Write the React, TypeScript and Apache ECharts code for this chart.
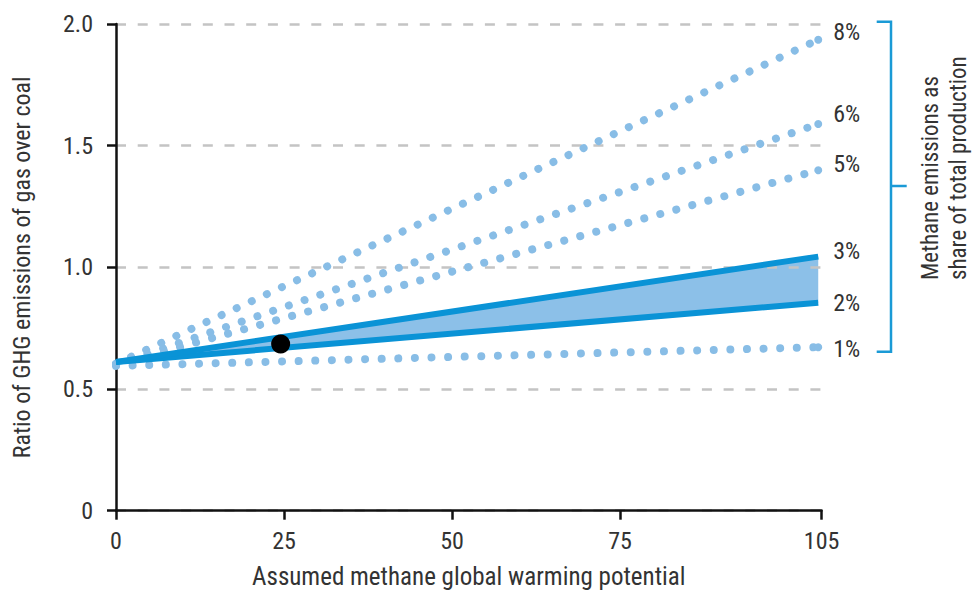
import React, { useEffect, useRef } from "react";
import * as echarts from "echarts";

// Assumed methane GWP range (x) shared by all scenario lines
const gwp = [0, 104.5];

// Ratio of GHG emissions of gas over coal, per methane leakage share
const share1 = [0.595, 0.672];
const share2 = [0.611, 0.855];
const share3 = [0.611, 1.044];
const share5 = [0.6, 1.399];
const share6 = [0.6, 1.589];
const share8 = [0.604, 1.935];

// Highlighted point
const markerGwp = 24.5;
const markerRatio = 0.685;

const xTicks = [0, 25, 50, 75, 105];
const yTicks = [0, 0.5, 1.0, 1.5, 2.0];

const FONT = "Roboto Condensed";
const TEXT = "#333333";
const DOT = "#88bde6";
const SOLID = "#0a93d6";
const FILL = "#8cc0e8";
const BRACKET = "#1a9ad6";

const pts = (ys: number[]) => gwp.map((x, i) => [x, ys[i]]);
// dotted lines: end point gets a dot, start point hidden under the band
const dotPts = (ys: number[]) =>
  gwp.map((x, i) => (i === 0 ? { value: [x, ys[i]], symbol: "none" } : { value: [x, ys[i]] }));

export default function App() {
  const ref = useRef<HTMLDivElement>(null);

  useEffect(() => {
    document.body.style.margin = "0";
    if (!ref.current) return;
    const chart = echarts.init(ref.current, null, { renderer: "svg" });

    const label = (name: string, dy: number) => ({
      show: true,
      formatter: name,
      distance: 15,
      offset: [0, dy],
      fontFamily: FONT,
      fontWeight: 400,
      fontSize: 24,
      color: TEXT,
    });

    const dotted = (name: string, ys: number[], dy: number) => ({
      name,
      type: "line",
      data: dotPts(ys),
      z: 2,
      symbol: "circle",
      symbolSize: 8,
      showSymbol: true,
      itemStyle: { color: DOT },
      lineStyle: { color: DOT, width: 8, type: [0.01, 16.6], cap: "round" },
      endLabel: label(name, dy),
      emphasis: { disabled: true },
    });

    const solid = (name: string, ys: number[], dy: number) => ({
      name,
      type: "line",
      data: pts(ys),
      z: 3,
      symbol: "none",
      lineStyle: { color: SOLID, width: 6, cap: "butt" },
      endLabel: label(name, dy),
      emphasis: { disabled: true },
    });

    const option: any = {
      animation: false,
      textStyle: { fontFamily: FONT },
      grid: {
        left: 116,
        right: 151.4,
        top: 24,
        bottom: 82.3,
        containLabel: false,
        outerBoundsMode: "none",
      },
      xAxis: {
        type: "value",
        min: 0,
        max: 105,
        name: "Assumed methane global warming potential",
        nameLocation: "middle",
        nameGap: 53,
        nameTextStyle: { fontFamily: FONT, fontWeight: 400, fontSize: 25, color: TEXT, verticalAlign: "top" },
        axisLine: { show: true, lineStyle: { color: "#111", width: 2.5 } },
        axisTick: {
          show: true,
          length: 9,
          lineStyle: { color: "#111", width: 2.5 },
          customValues: xTicks,
        },
        axisLabel: {
          margin: 18,
          fontFamily: FONT,
          fontWeight: 400,
          fontSize: 24,
          color: TEXT,
          customValues: xTicks,
        },
        splitLine: { show: false },
      },
      yAxis: {
        type: "value",
        min: 0,
        max: 2,
        interval: 0.5,
        name: "Ratio of GHG emissions of gas over coal",
        nameLocation: "middle",
        nameGap: 82,
        nameRotate: 90,
        nameTextStyle: { fontFamily: FONT, fontWeight: 400, fontSize: 24, color: TEXT },
        axisLine: { show: true, lineStyle: { color: "#111", width: 2.5 } },
        axisTick: { show: true, length: 9, lineStyle: { color: "#111", width: 2.5 } },
        axisLabel: {
          margin: 23,
          fontFamily: FONT,
          fontWeight: 400,
          fontSize: 24,
          color: TEXT,
          formatter: (v: number) => (v === 0 ? "0" : v.toFixed(1)),
          customValues: yTicks,
        },
        splitLine: {
          show: true,
          lineStyle: { color: "#c4c4c4", width: 2.5, type: [10, 11.7] },
        },
      },
      series: [
        {
          name: "band",
          type: "custom",
          z: -1,
          silent: true,
          data: gwp.map((x, i) => [x, share2[i], share3[i]]),
          renderItem: (params: any, api: any) => {
            const i = params.dataIndex;
            if (i >= gwp.length - 1) return null;
            const a = api.coord([gwp[i], share2[i]]);
            const b = api.coord([gwp[i + 1], share2[i + 1]]);
            const c = api.coord([gwp[i + 1], share3[i + 1]]);
            const d = api.coord([gwp[i], share3[i]]);
            return {
              type: "polygon",
              shape: { points: [a, b, c, d] },
              style: { fill: FILL, stroke: null },
            };
          },
        },
        dotted("1%", share1, 2),
        dotted("5%", share5, -6),
        dotted("6%", share6, -10),
        dotted("8%", share8, -8),
        solid("2%", share2, 0),
        solid("3%", share3, -6),
        {
          name: "marker",
          type: "scatter",
          data: [[markerGwp, markerRatio]],
          symbolSize: 19,
          z: 5,
          itemStyle: { color: "#000", opacity: 1 },
          silent: true,
        },
      ],
      graphic: [
        {
          type: "polyline",
          shape: { points: [[876.7, 21.7], [891, 21.7], [891, 351.7], [876.7, 351.7]] },
          style: { stroke: BRACKET, lineWidth: 2.5, fill: null },
          silent: true,
        },
        {
          type: "line",
          shape: { x1: 891, y1: 186, x2: 906.7, y2: 186 },
          style: { stroke: BRACKET, lineWidth: 2.5 },
          silent: true,
        },
        {
          type: "text",
          x: 930,
          y: 280,
          rotation: Math.PI / 2,
          style: {
            text: "Methane emissions as",
            fontFamily: FONT,
            fontWeight: 400,
            fontSize: 23,
            fill: TEXT,
            align: "left",
            verticalAlign: "middle",
          },
          silent: true,
        },
        {
          type: "text",
          x: 958,
          y: 280,
          rotation: Math.PI / 2,
          style: {
            text: "share of total production",
            fontFamily: FONT,
            fontWeight: 400,
            fontSize: 23,
            fill: TEXT,
            align: "left",
            verticalAlign: "middle",
          },
          silent: true,
        },
      ],
    };

    chart.setOption(option);
    return () => chart.dispose();
  }, []);

  return <div ref={ref} style={{ width: 973, height: 593 }} />;
}
